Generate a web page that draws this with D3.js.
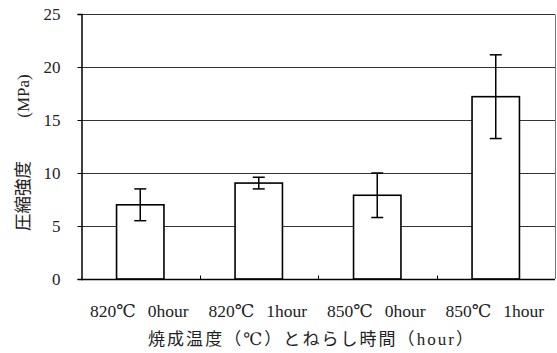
<!DOCTYPE html>
<html>
<head>
<meta charset="utf-8">
<script src="https://cdn.jsdelivr.net/npm/d3@7"></script>
<style>
  body { margin: 0; background: #fff; }
  svg { display: block; }
  text { font-family: "Liberation Serif", "DejaVu Serif", "Noto Sans CJK JP", serif; fill: #222; }
</style>
</head>
<body>
<svg id="chart" width="557" height="353"></svg>
<script>
// Data.
const temps = ["820℃", "820℃", "850℃", "850℃"];
const hours = ["0hour", "1hour", "0hour", "1hour"];
const categories = temps.map((t, i) => t + " " + hours[i]);
const strength = [7.0, 9.05, 7.9, 17.2];   // 圧縮強度 (MPa)
const errors = [1.5, 0.55, 2.1, 3.95];     // +/- error bar
const yTicks = [0, 5, 10, 15, 20, 25];

const m = { left: 81, right: 2, top: 14, bottom: 74 };
const W = 557, H = 353;
const svg = d3.select("#chart");

const x = d3.scaleBand()
  .domain(categories)
  .range([m.left, W - m.right])
  .paddingInner(0.6)
  .paddingOuter(0.3);

const y = d3.scaleLinear()
  .domain([0, 25])
  .range([H - m.bottom, m.top]);

// Gridlines + frame.
svg.append("g")
  .selectAll("line")
  .data(yTicks.slice(1))
  .join("line")
  .attr("x1", m.left)
  .attr("x2", W - m.right)
  .attr("y1", (d) => Math.round(y(d)) + 0.5)
  .attr("y2", (d) => Math.round(y(d)) + 0.5)
  .attr("stroke", "#333")
  .attr("stroke-width", 1);

svg.append("line")
  .attr("x1", W - m.right + 0.5).attr("x2", W - m.right + 0.5)
  .attr("y1", Math.round(y(25)) + 0.5).attr("y2", y(0))
  .attr("stroke", "#777");

// Bars.
svg.append("g")
  .selectAll("rect")
  .data(strength)
  .join("rect")
  .attr("x", (d, i) => x(categories[i]))
  .attr("y", (d) => y(d))
  .attr("width", x.bandwidth())
  .attr("height", (d) => y(0) - y(d))
  .attr("fill", "#fff")
  .attr("stroke", "#000")
  .attr("stroke-width", 1.6);

// Error bars.
const eb = svg.append("g").attr("stroke", "#000").attr("stroke-width", 1.5);
strength.forEach((v, i) => {
  const cx = x(categories[i]) + x.bandwidth() / 2;
  const hi = y(v + errors[i]), lo = y(v - errors[i]);
  eb.append("line").attr("x1", cx).attr("x2", cx).attr("y1", hi).attr("y2", lo);
  eb.append("line").attr("x1", cx - 6).attr("x2", cx + 6).attr("y1", hi).attr("y2", hi);
  eb.append("line").attr("x1", cx - 6).attr("x2", cx + 6).attr("y1", lo).attr("y2", lo);
});

// Y axis.
const yAxis = svg.append("g")
  .attr("transform", `translate(${m.left + 0.5},0)`)
  .call(d3.axisLeft(y).tickValues(yTicks).tickSize(4).tickPadding(17));
yAxis.select(".domain").attr("stroke", "#000").attr("stroke-width", 1.5);
yAxis.selectAll(".tick line").attr("stroke", "#000");
yAxis.selectAll("text")
  .style("font-family", "'Liberation Serif', serif")
  .style("font-size", "17px")
  .attr("fill", "#222");

// X axis: baseline with small inward ticks at category boundaries.
const x0 = Math.round(y(0)) + 0.5;
svg.append("line")
  .attr("x1", m.left).attr("x2", W - m.right)
  .attr("y1", x0).attr("y2", x0)
  .attr("stroke", "#000").attr("stroke-width", 1.5);
svg.append("g")
  .selectAll("line")
  .data(categories.slice(1))
  .join("line")
  .attr("x1", (d) => Math.round(x(d) - x.step() * 0.3) + 0.5)
  .attr("x2", (d) => Math.round(x(d) - x.step() * 0.3) + 0.5)
  .attr("y1", x0)
  .attr("y2", x0 - 4)
  .attr("stroke", "#000");

const cat = svg.append("g")
  .selectAll("text")
  .data(categories)
  .join("text")
  .attr("x", (d) => x(d) + x.bandwidth() / 2 - 1)
  .attr("y", 317)
  .attr("text-anchor", "middle")
  .style("font-size", "17.5px");
cat.append("tspan").text((d, i) => temps[i]);
cat.append("tspan").attr("dx", 12).text((d, i) => hours[i]);

// Axis titles.
svg.append("text")
  .attr("x", 148)
  .attr("y", 345)
  .attr("textLength", 325)
  .attr("lengthAdjust", "spacing")
  .style("font-size", "17px")
  .text("焼成温度（℃）とねらし時間（hour）");

svg.append("text")
  .attr("transform", "translate(29,196) rotate(-90)")
  .attr("text-anchor", "middle")
  .style("font-family", "'Noto Sans CJK JP', sans-serif")
  .style("font-size", "17.5px")
  .text("圧縮強度");
svg.append("text")
  .attr("transform", "translate(29,96) rotate(-90)")
  .attr("text-anchor", "middle")
  .style("font-family", "'Liberation Serif', serif")
  .style("font-size", "17px")
  .text("(MPa)");
</script>
</body>
</html>
